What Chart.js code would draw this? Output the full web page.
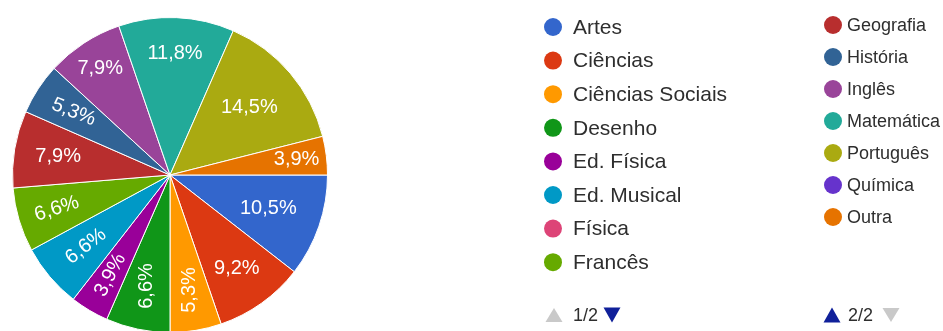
<!DOCTYPE html>
<html>
<head>
<meta charset="utf-8">
<script src="https://cdn.jsdelivr.net/npm/chart.js@4/dist/chart.umd.min.js"></script>
<style>
  html, body { margin: 0; padding: 0; background: #fff; overflow: hidden; }
  #wrap { position: relative; width: 943px; height: 331px; overflow: hidden; }
  #wrap canvas { position: absolute; left: 0; top: 0; }
</style>
</head>
<body>
<div id="wrap"><canvas id="c" width="943" height="345"></canvas></div>
<script>
// Subjects and number of answers for each
const subjects = [
  'Artes', 'Ciências', 'Ciências Sociais', 'Desenho', 'Ed. Física',
  'Ed. Musical', 'Física', 'Francês', 'Geografia', 'História',
  'Inglês', 'Matemática', 'Português', 'Química', 'Outra'
];
const responses = [8, 7, 4, 5, 3, 5, 0, 5, 6, 4, 6, 9, 11, 0, 3];
const pageLabels = ['1/2', '2/2'];

// Styling
const sliceColors = [
  '#3366cc', '#dc3912', '#ff9900', '#109618', '#990099',
  '#0099c6', '#dd4477', '#66aa00', '#b82e2e', '#316395',
  '#994499', '#22aa99', '#aaaa11', '#6633cc', '#e67300'
];
// per-slice label tilt (degrees) and distance from the centre (share of radius)
const labelTilt  = [0, 0, -90, -90, -62, -38, 0, -18, 0, 22, 0, 0, 0, 0, 0];
const labelReach = [0.66, 0.73, 0.74, 0.72, 0.74, 0.70, 0.7, 0.75, 0.72, 0.73, 0.81, 0.77, 0.66, 0.7, 0.81];
const FONT = '"Liberation Sans", Arial, sans-serif';
const NAVY = '#10209a';
const GREY = '#c9c9c9';

const total = responses.reduce((a, b) => a + b, 0);
const pct = v => (v / total * 100).toFixed(1).replace('.', ',') + '%';

// Percent labels inside the slices
const sliceLabels = {
  id: 'sliceLabels',
  afterDatasetsDraw(chart) {
    const ctx = chart.ctx;
    chart.getDatasetMeta(0).data.forEach((arc, i) => {
      const v = responses[i];
      if (!v) return;
      const p = arc.getProps(['x', 'y', 'startAngle', 'endAngle', 'outerRadius'], true);
      const mid = (p.startAngle + p.endAngle) / 2;
      const r = p.outerRadius * labelReach[i];
      ctx.save();
      ctx.translate(p.x + Math.cos(mid) * r, p.y + Math.sin(mid) * r);
      ctx.rotate(labelTilt[i] * Math.PI / 180);
      ctx.font = '20px ' + FONT;
      ctx.fillStyle = '#ffffff';
      ctx.textAlign = 'center';
      ctx.textBaseline = 'middle';
      ctx.fillText(pct(v), 0, 0);
      ctx.restore();
    });
  }
};

function triangle(ctx, cx, cy, w, h, up, color) {
  ctx.beginPath();
  if (up) {
    ctx.moveTo(cx - w / 2, cy + h / 2);
    ctx.lineTo(cx + w / 2, cy + h / 2);
    ctx.lineTo(cx, cy - h / 2);
  } else {
    ctx.moveTo(cx - w / 2, cy - h / 2);
    ctx.lineTo(cx + w / 2, cy - h / 2);
    ctx.lineTo(cx, cy + h / 2);
  }
  ctx.closePath();
  ctx.fillStyle = color;
  ctx.fill();
}

// Two paged legend columns
const pagedLegend = {
  id: 'pagedLegend',
  afterDraw(chart) {
    const ctx = chart.ctx;
    const labels = chart.data.labels;
    const colors = chart.data.datasets[0].backgroundColor;
    const cols = [
      { from: 0, to: 8, dotX: 553, textX: 573, y0: 27, step: 33.6, size: 21 },
      { from: 8, to: 15, dotX: 833, textX: 847, y0: 25, step: 32, size: 18 }
    ];
    ctx.save();
    cols.forEach(c => {
      ctx.font = c.size + 'px ' + FONT;
      ctx.textAlign = 'left';
      ctx.textBaseline = 'middle';
      for (let i = c.from; i < c.to; i++) {
        const y = c.y0 + (i - c.from) * c.step;
        ctx.beginPath();
        ctx.arc(c.dotX, y, 9, 0, Math.PI * 2);
        ctx.fillStyle = colors[i];
        ctx.fill();
        ctx.fillStyle = '#2e2e2e';
        ctx.fillText(labels[i], c.textX, y + 1);
      }
    });
    // page indicators
    ctx.font = '18px ' + FONT;
    triangle(ctx, 554, 315, 17, 14, true, GREY);
    ctx.fillStyle = '#2e2e2e';
    ctx.fillText(pageLabels[0], 573, 316);
    triangle(ctx, 612, 315, 17, 15, false, NAVY);
    triangle(ctx, 832, 315, 17, 15, true, NAVY);
    ctx.fillStyle = '#2e2e2e';
    ctx.fillText(pageLabels[1], 848, 316);
    triangle(ctx, 891, 315, 17, 14, false, GREY);
    ctx.restore();
  }
};

new Chart(document.getElementById('c'), {
  type: 'pie',
  data: {
    labels: subjects,
    datasets: [{
      data: responses,
      backgroundColor: sliceColors,
      borderColor: '#ffffff',
      borderWidth: 1
    }]
  },
  options: {
    responsive: false,
    animation: false,
    devicePixelRatio: 1,
    rotation: 90,
    layout: { padding: { left: 12, top: 17, right: 615, bottom: 12 } },
    plugins: { legend: { display: false }, tooltip: { enabled: false } }
  },
  plugins: [sliceLabels, pagedLegend]
});
</script>
</body>
</html>
